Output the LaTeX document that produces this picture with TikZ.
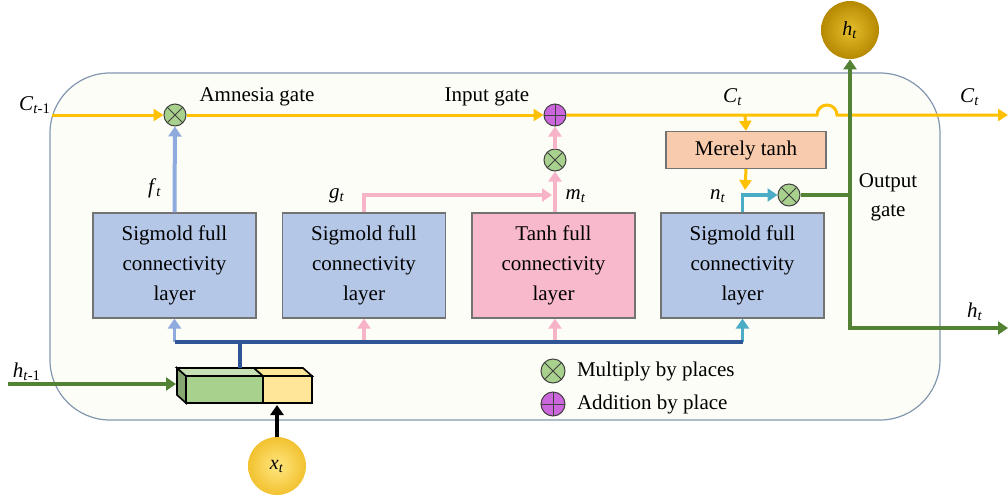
\documentclass[tikz,border=0pt]{standalone}
\usepackage{fontspec}
\setmainfont{Liberation Serif}
\usetikzlibrary{arrows.meta}

\definecolor{cellbg}{HTML}{FDFDF7}
\definecolor{cellline}{HTML}{8497B0}
\definecolor{memline}{HTML}{FFC000}
\definecolor{outgreen}{HTML}{548235}
\definecolor{sigblue}{HTML}{8FAADC}
\definecolor{busblue}{HTML}{2F5597}
\definecolor{tanhpink}{HTML}{F7B3C7}
\definecolor{nteal}{HTML}{4BACC6}
\definecolor{boxblue}{HTML}{B4C7E7}
\definecolor{boxpink}{HTML}{F8B9CC}
\definecolor{boxpeach}{HTML}{F8CBAD}
\definecolor{prodgreen}{HTML}{A9D18E}
\definecolor{sumpurple}{HTML}{CC66DD}
\definecolor{catyellow}{HTML}{FFE699}
\definecolor{htin}{HTML}{E6BE2E}
\definecolor{htout}{HTML}{B58900}
\definecolor{xtin}{HTML}{FFE680}
\definecolor{xtout}{HTML}{F2C230}

\newcommand{\sv}[2]{\textit{#1}\textsubscript{#2}}

\tikzset{
  layerbox/.style={draw=black!55, line width=0.6pt, fill=boxblue,
    minimum width=81.5pt, minimum height=52.5pt, align=center,
    font=\fontsize{10.5}{15}\selectfont},
  prodcirc/.style={circle, draw=black!75, line width=0.5pt, fill=prodgreen,
    minimum size=11pt, inner sep=0pt,
    path picture={\draw[black!75, line width=0.4pt]
      ([shift={(45:6pt)}]path picture bounding box.center) --
      ([shift={(225:6pt)}]path picture bounding box.center)
      ([shift={(135:6pt)}]path picture bounding box.center) --
      ([shift={(315:6pt)}]path picture bounding box.center);}},
  sumcirc/.style={circle, draw=black!75, line width=0.5pt, fill=sumpurple,
    minimum size=11pt, inner sep=0pt,
    path picture={\draw[black!75, line width=0.4pt]
      (path picture bounding box.north) -- (path picture bounding box.south)
      (path picture bounding box.west) -- (path picture bounding box.east);}},
  ball/.style={circle, minimum size=29pt, inner sep=0pt, shading=radial},
  lbl/.style={font=\fontsize{10.5}{13}\selectfont},
  memarrow/.style={memline, line width=1.5pt, -{Triangle[length=5pt, width=6pt]}},
  fatarrow/.style={line width=2pt, -{Triangle[length=5pt, width=6.5pt]}},
}

\begin{document}
\begin{tikzpicture}[x=0.5pt, y=-0.5pt]
  \useasboundingbox (0,0) rectangle (1008,499);
  %% cell body
  \draw[cellline, fill=cellbg, line width=0.6pt, rounded corners=30pt] (50,73) rectangle (940,420);

  %% layers
  \node[layerbox] (sig1) at (174.5,265.5) {Sigmold full\\connectivity\\layer};
  \node[layerbox] (sig2) at (364,265.5) {Sigmold full\\connectivity\\layer};
  \node[layerbox, fill=boxpink] (tanh1) at (553.5,265.5) {Tanh full\\connectivity\\layer};
  \node[layerbox] (sig3) at (742.5,265.5) {Sigmold full\\connectivity\\layer};
  \node[layerbox, fill=boxpeach, minimum width=80pt, minimum height=18.5pt] (mtanh) at (746,150) {Merely tanh};

  %% pointwise operations
  \node[prodcirc] (forget) at (175,115) {};
  \node[sumcirc] (update) at (555,115) {};
  \node[prodcirc] (gate) at (555,160) {};
  \node[prodcirc] (output) at (789,195) {};

  %% in / out
  \node[ball, inner color=htin, outer color=htout] (htop) at (850,30) {\sv{h}{\textit{t}}};
  \node[ball, inner color=xtin, outer color=xtout] (xt) at (277,466) {\sv{x}{\textit{t}}};
  \coordinate (cin) at (52,115);
  \coordinate (cout) at (1008,115);
  \coordinate (ctap) at (745,115);
  \coordinate (hop) at (817,115);
  \coordinate (ntap) at (745,190);
  \coordinate (gin) at (552,195);
  \coordinate (hout) at (1008,328);
  \coordinate (hin) at (8,384);
  \coordinate (catin) at (176,384);
  \coordinate (catbot) at (277,405);
  \coordinate (cat) at (240,368);
  \coordinate (bus) at (0,342);

  %% labels
  \node[lbl] (lcin) at (35,105) {\sv{C}{\textit{t}-1}};
  \node[lbl] (lct) at (733,97) {\sv{C}{\textit{t}}};
  \node[lbl] (lcout) at (970,97) {\sv{C}{\textit{t}}};
  \node[lbl] (lamn) at (257,97) {Amnesia gate};
  \node[lbl] (linp) at (487,97) {Input gate};
  \node[lbl] (lf) at (155,188) {\sv{f}{\textit{t}}};
  \node[lbl] (lg) at (337,196) {\sv{g}{\textit{t}}};
  \node[lbl] (lm) at (576,196) {\sv{m}{\textit{t}}};
  \node[lbl] (ln) at (718,196) {\sv{n}{\textit{t}}};
  \node[lbl, align=center, font=\fontsize{10.5}{14.5}\selectfont] (lout) at (888,197) {Output\\gate};
  \node[lbl] (lhout) at (975,312) {\sv{h}{\textit{t}}};
  \node[lbl] (lhin) at (27,372) {\sv{h}{\textit{t}-1}};

  %% cell state line
  \draw[memarrow] (cin) -- (forget);
  \draw[memarrow] (forget) -- (update);
  \draw[memarrow] (update) -- (hop) arc[start angle=180, end angle=0, radius=5pt] -- (cout);
  \draw[memarrow] (ctap) -- (mtanh.north);
  \draw[memarrow] (mtanh.south) -- (ntap);

  %% gate outputs
  \draw[fatarrow, sigblue] (sig1.north) -- (forget);
  \draw[fatarrow, tanhpink, line width=1.6pt] (sig2.north) |- (gin);
  \draw[fatarrow, tanhpink] (tanh1.north -| gate) -- (gate);
  \draw[fatarrow, tanhpink] (gate) -- (update);
  \draw[fatarrow, nteal, line width=1.6pt] (sig3.north) |- (output);

  %% hidden state out
  \draw[fatarrow, outgreen] (output) -| (htop);
  \draw[fatarrow, outgreen] (output -| htop) |- (hout);

  %% concatenated input
  \draw[black, line width=0.8pt, fill=prodgreen!80!black] (177,368) -- (186,376) -- (186,403) -- (177,395) -- cycle;
  \draw[black, line width=0.8pt, fill=prodgreen!65!white] (177,368) -- (254,368) -- (263,376) -- (186,376) -- cycle;
  \draw[black, line width=0.8pt, fill=catyellow] (254,368) -- (303,368) -- (312,376) -- (263,376) -- cycle;
  \draw[black, line width=0.8pt, fill=prodgreen] (186,376) rectangle (263,403);
  \draw[black, line width=0.8pt, fill=catyellow] (263,376) rectangle (312,403);
  \draw[fatarrow, outgreen] (hin) -- (catin);
  \draw[fatarrow, black, line width=1.6pt] (xt) -- (catbot);

  %% bus to the layers
  \draw[fatarrow, sigblue, line width=1.6pt] (sig1.south |- bus) -- (sig1.south);
  \draw[fatarrow, tanhpink, line width=1.6pt] (sig2.south |- bus) -- (sig2.south);
  \draw[fatarrow, tanhpink, line width=1.6pt] (gate |- bus) -- (gate |- tanh1.south);
  \draw[fatarrow, nteal, line width=1.6pt] (sig3.south |- bus) -- (sig3.south);
  \draw[busblue, line width=2pt] (sig1.south |- bus) -- (sig3.south |- bus);
  \draw[busblue, line width=2pt] (cat |- bus) -- (cat);

  %% legend
  \node[prodcirc, minimum size=12pt] (keyprod) at (553,371) {};
  \node[lbl, anchor=west] (lkeyprod) at (570,371) {Multiply by places};
  \node[sumcirc, minimum size=12pt] (keysum) at (553,404) {};
  \node[lbl, anchor=west] (lkeysum) at (570,404) {Addition by place};
\end{tikzpicture}
\end{document}
